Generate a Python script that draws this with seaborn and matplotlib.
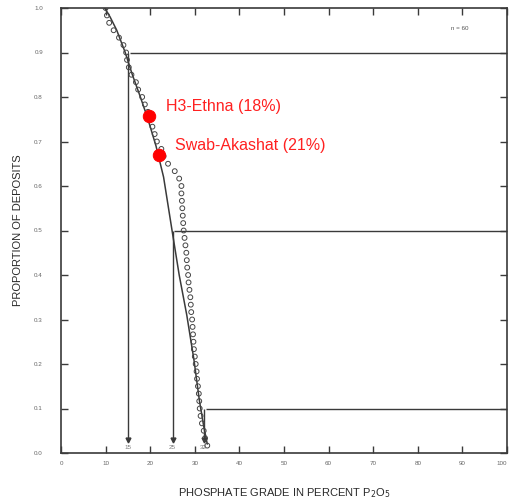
import matplotlib
matplotlib.use("Agg")
import matplotlib.pyplot as plt
import seaborn as sns
import pandas as pd

# Teneurs observées (P2O5 %), triées de la plus faible à la plus forte
grades = [10.0, 10.3, 10.8, 11.8, 13.0, 14.0, 14.6, 14.8, 15.2, 15.8,
          16.8, 17.3, 18.2, 18.8, 19.5, 20.0, 20.5, 21.0, 21.5, 22.5,
          23.0, 24.0, 25.5, 26.5, 27.0, 27.0, 27.1, 27.2, 27.3, 27.4,
          27.5, 27.7, 27.9, 28.1, 28.2, 28.3, 28.5, 28.6, 28.8, 29.0,
          29.1, 29.2, 29.4, 29.5, 29.6, 29.7, 29.8, 30.0, 30.2, 30.4,
          30.5, 30.7, 30.9, 31.0, 31.1, 31.3, 31.6, 32.0, 32.3, 32.8]
n_deposits = len(grades)
proportions = [(n_deposits - i) / n_deposits for i in range(n_deposits)]

# Courbe ajustée
curve_grade = [9.8, 11.0, 12.5, 14.4, 16.0, 17.8, 19.5, 21.3, 23.0, 24.9,
               26.5, 28.2, 29.8, 31.0, 32.0, 32.8]
curve_prop = [1.0, 0.98, 0.95, 0.90, 0.85, 0.80, 0.75, 0.69, 0.62, 0.50,
              0.40, 0.31, 0.21, 0.12, 0.06, 0.02]

# Gisements mis en évidence
highlight_names = ["H3-Ethna (18%)", "Swab-Akashat (21%)"]
highlight_grade = [19.8, 22.0]
highlight_prop = [0.757, 0.670]

# Percentiles 90 / 50 / 10
pct_prop = [0.9, 0.5, 0.1]
pct_grade = [15, 25, 32]
pct_labels = ["15", "25", "32"]

x_ticks = list(range(0, 101, 10))
y_ticks = [i / 10 for i in range(11)]

sns.set_style("ticks")
plt.rcParams["font.family"] = ["Liberation Sans", "DejaVu Sans"]

ink = "#3a3a3a"
fig = plt.figure(figsize=(5.09, 5.03), dpi=100)
ax = fig.add_axes([61 / 509, 50 / 503, 446 / 509, 445 / 503])

df_pts = pd.DataFrame({"grade": grades, "prop": proportions})
df_curve = pd.DataFrame({"grade": curve_grade, "prop": curve_prop})
df_hl = pd.DataFrame({"grade": highlight_grade, "prop": highlight_prop,
                      "name": highlight_names})

# Lignes de percentiles
for p, g, lab in zip(pct_prop, pct_grade, pct_labels):
    ax.hlines(p, g + 0.4, 100, color=ink, lw=1.0, zorder=1)
    ax.vlines(g, 0.03, p, color=ink, lw=1.0, zorder=1)
    ax.plot([g], [0.03], marker="v", color=ink, ms=3.5, zorder=2)
    ax.text(g, 0.012, lab, fontsize=4.5, color="#777777",
            ha="center", va="center")

sns.lineplot(data=df_curve, x="grade", y="prop", sort=False, color=ink,
             lw=1.1, ax=ax, zorder=3)
sns.scatterplot(data=df_pts, x="grade", y="prop", marker="o",
                facecolor="none", edgecolor="#444444", linewidth=0.7,
                s=12, ax=ax, zorder=4)
sns.scatterplot(data=df_hl, x="grade", y="prop", color="#ff0000",
                edgecolor="#ff0000", s=80, ax=ax, zorder=5)

for name, g, p, dx in zip(highlight_names, highlight_grade,
                          highlight_prop, [3.8, 3.5]):
    ax.text(g + dx, p + 0.022, name, color="#ff2020", fontsize=11.5,
            ha="left", va="center")

ax.text(89.5, 0.953, "n = 60", fontsize=4.5, color="#555555",
        ha="center", va="center")

ax.set_xlim(0, 100)
ax.set_ylim(0, 1.0)
ax.set_xticks(x_ticks)
ax.set_yticks(y_ticks)
xlabels = [str(v) for v in x_ticks]
ax.set_xticklabels(xlabels, fontsize=4.5, color="#666666")
ax.get_xticklabels()[-1].set_horizontalalignment("right")
ax.set_yticklabels([f"{v:.1f}" for v in y_ticks], fontsize=4.5,
                   color="#666666")
ax.tick_params(axis="y", pad=13)
ax.tick_params(direction="in", length=5, width=1.0, color=ink,
               top=True, right=True)
ax.tick_params(axis="x", pad=6)
for side in ax.spines.values():
    side.set_color(ink)
    side.set_linewidth(1.2)

ax.set_xlabel("PHOSPHATE GRADE IN PERCENT P$_2$O$_5$", fontsize=8,
              color="#2a2a2a", labelpad=14)
ax.set_ylabel("PROPORTION OF DEPOSITS", fontsize=8, color="#2a2a2a",
              labelpad=8)

fig.savefig("out.png", dpi=100)
